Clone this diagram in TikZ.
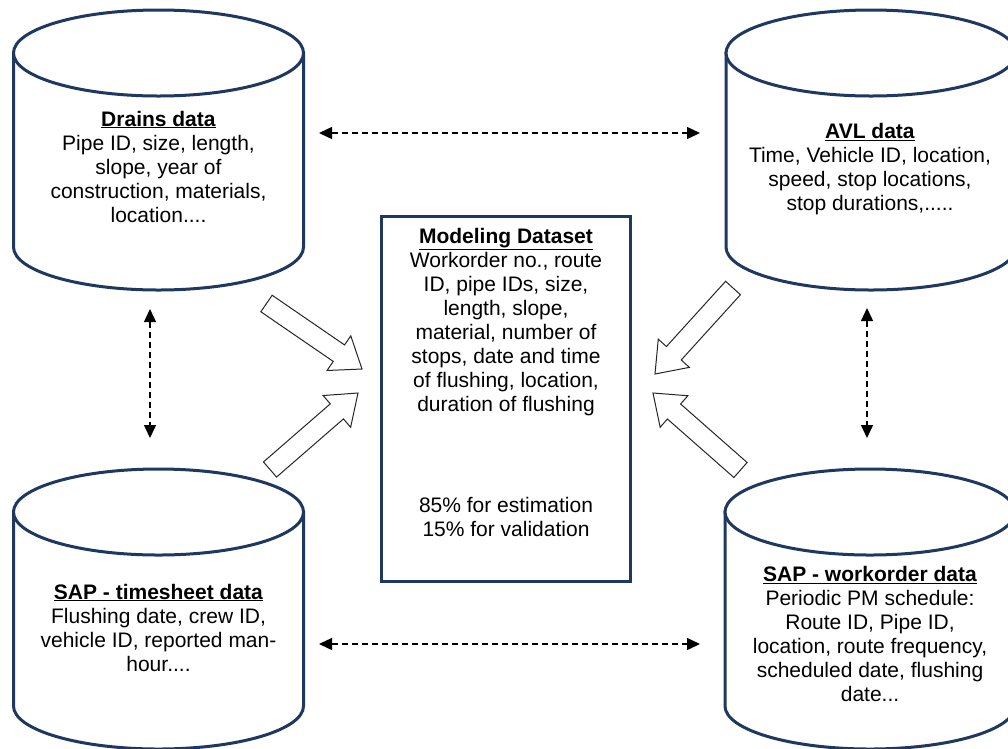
\documentclass[tikz,border=0pt]{standalone}
\usepackage{fontspec}
\setmainfont{Liberation Sans}
\usetikzlibrary{calc,arrows.meta}
\definecolor{navy}{RGB}{31,56,96}
\tikzset{
  cyl/.style={draw=navy, line width=3pt, fill=white},
  txt/.style={align=center, font=\fontsize{21}{24}\selectfont, inner sep=0pt, text=black},
  dlink/.style={line width=1.4pt, dash pattern=on 6pt off 4pt,
    {Triangle[length=13pt,width=12pt]}-{Triangle[length=13pt,width=12pt]}},
  barrow/.style={draw=black!85, line width=1pt, fill=white, line join=miter},
  dbox/.style={draw=navy, line width=3pt, fill=white, minimum width=249pt, minimum height=365pt, inner sep=0pt}
}
% cylinder: #1 centre x, #2 centre y of top ellipse
\newcommand\drawcyl[2]{%
  \draw[cyl] ({#1-145},{#2}) -- ({#1-145},{#2+194})
    arc[start angle=180, end angle=360, x radius=145pt, y radius=43pt]
    -- ({#1+145},{#2}) -- cycle;
  \draw[cyl] (#1,#2) ellipse[x radius=145pt, y radius=43pt];
}
% block arrow from tail coordinate #1 to tip coordinate #2
\newcommand\blockarr[2]{%
  \path ($(#2)!28pt!(#1)$) coordinate (#1h);
  \draw[barrow] ($(#1)!10pt!90:(#2)$) -- ($(#1h)!10pt!90:(#2)$) -- ($(#1h)!21pt!90:(#2)$)
    -- (#2) -- ($(#1h)!21pt!-90:(#2)$) -- ($(#1h)!10pt!-90:(#2)$) -- ($(#1)!10pt!-90:(#2)$) -- cycle;
}
\begin{document}
\begin{tikzpicture}[x=1pt,y=-1pt]
\useasboundingbox (0,0) rectangle (1008,748);
\fill[white] (0,0) rectangle (1008,748);
\clip (0,0) rectangle (1008,748);

% data stores
\drawcyl{158.5}{53}
\drawcyl{871}{53}
\drawcyl{158.5}{512}
\drawcyl{870}{512}

% central dataset box
\node[dbox] (box) at (506,399) {};

% block arrows
\coordinate (tlT) at (266.5,303.5); \coordinate (tlP) at (362,369);
\coordinate (blT) at (270,469.5);   \coordinate (blP) at (358,393);
\coordinate (trT) at (733,288);     \coordinate (trP) at (655,374);
\coordinate (brT) at (740.5,470);   \coordinate (brP) at (653,393);
\blockarr{tlT}{tlP}
\blockarr{blT}{blP}
\blockarr{trT}{trP}
\blockarr{brT}{brP}

% dashed two-way links
\coordinate (hTa) at (319,133); \coordinate (hTb) at (700,133);
\coordinate (hBa) at (319,644); \coordinate (hBb) at (700,644);
\coordinate (vLa) at (150,309); \coordinate (vLb) at (150,438);
\coordinate (vRa) at (867,308); \coordinate (vRb) at (867,438);
\draw[dlink] (hTa) -- (hTb);
\draw[dlink] (hBa) -- (hBb);
\draw[dlink] (vLa) -- (vLb);
\draw[dlink] (vRa) -- (vRb);

% texts
\node[txt] (drains) at (158.5,166.5) {\underline{\textbf{Drains data}}\\Pipe ID, size, length,\\slope, year of\\construction, materials,\\location....};
\node[txt] (avl) at (870,169) {\underline{\textbf{AVL data}}\\Time, Vehicle ID, location,\\speed, stop locations,\\stop durations,.....};
\node[txt] (timesheet) at (158.5,627.5) {\underline{\textbf{SAP - timesheet data}}\\Flushing date, crew ID,\\vehicle ID, reported man-\\hour....};
\node[txt] (workorder) at (870,634) {\underline{\textbf{SAP - workorder data}}\\Periodic PM schedule:\\Route ID, Pipe ID,\\location, route frequency,\\scheduled date, flushing\\date...};
\node[txt] (dataset) at (506,322) {\underline{\textbf{Modeling Dataset}}\\Workorder no., route\\ID, pipe IDs, size,\\length, slope,\\material, number of\\stops, date and time\\of flushing, location,\\duration of flushing};
\node[txt] (split) at (506,516.5) {85\% for estimation\\15\% for validation};
\end{tikzpicture}
\end{document}
